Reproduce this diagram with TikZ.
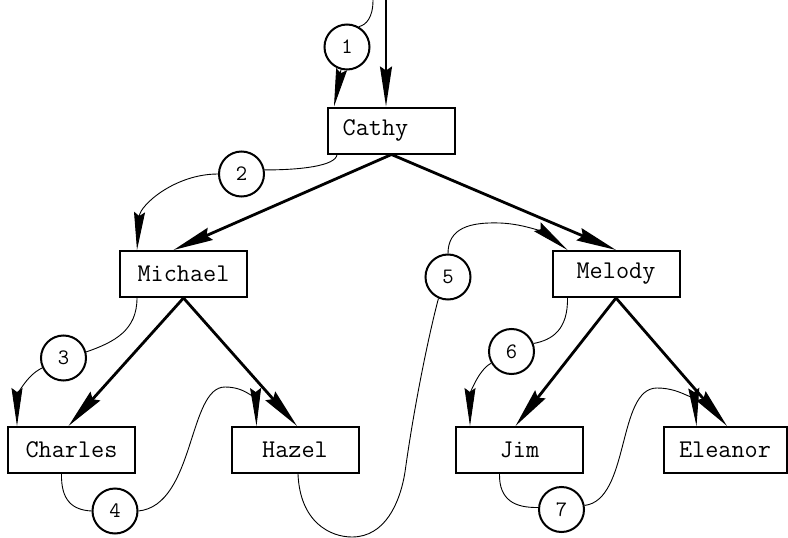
\documentclass[tikz,border=0pt]{standalone}
\usepackage{fontspec}
\usetikzlibrary{arrows.meta}
\begin{document}
\begin{tikzpicture}[x=1pt,y=-1pt,
  person/.style={draw,line width=2pt,minimum width=127pt,minimum height=46pt,inner sep=0pt,font=\ttfamily\fontsize{25.5}{28}\selectfont},
  stepnum/.style={draw,circle,line width=2pt,minimum size=45pt,inner sep=0pt,font=\ttfamily\fontsize{22}{24}\selectfont},
  tree/.style={line width=2.8pt,-{Stealth[length=40pt,width=13pt,inset=4pt]}},
  thread/.style={line width=0.9pt},
  threadtip/.style={thread,-{Stealth[length=38pt,width=11pt,inset=4pt]}}]
\useasboundingbox (0,0) rectangle (788,538);
% people
\node[person] (cathy) at (391.5,130.5) {Cathy\hspace*{32pt}};
\node[person] (michael) at (183.5,274) {Michael};
\node[person] (melody) at (616,274) {Melody};
\node[person] (charles) at (71.5,450) {Charles};
\node[person] (hazel) at (295,450) {Hazel};
\node[person] (jim) at (519.5,450) {Jim};
\node[person,minimum width=123pt] (eleanor) at (725,450) {Eleanor};
% step circles
\node[stepnum] (c1) at (347,47) {1};
\node[stepnum] (c2) at (241.5,174) {2};
\node[stepnum] (c3) at (63.5,358) {3};
\node[stepnum] (c4) at (115,511) {4};
\node[stepnum] (c5) at (448,277) {5};
\node[stepnum] (c6) at (511.5,351.5) {6};
\node[stepnum] (c7) at (561.5,509.5) {7};
% entry
\coordinate (entry) at (386,0);
\coordinate (threadin) at (373,0);
\draw[line width=2pt,-{Stealth[length=40pt,width=12pt,inset=4pt]}] (entry) -- (entry |- cathy.north);
% tree edges
\draw[tree] (cathy.south) -- ([xshift=-10pt]michael.north);
\draw[tree] (cathy.south) -- (melody.north);
\draw[tree] (michael.south) -- ([xshift=-3pt]charles.north);
\draw[tree] (michael.south) -- ([xshift=2pt]hazel.north);
\draw[tree] (melody.south) -- ([xshift=-4pt]jim.north);
\draw[tree] (melody.south) -- ([xshift=2pt]eleanor.north);
% thread
\draw[thread] (threadin) .. controls (373,18) and (366,25) .. (c1.60);
\draw[threadtip] (c1.-105) .. controls (339,82) .. ([xshift=-57.5pt]cathy.north);
\draw[thread] ([xshift=10pt]cathy.south west) .. controls (336,166) and (300,170) .. (c2.10);
\draw[threadtip] (c2.west) .. controls (175,174) and (140,205) .. ([xshift=18pt]michael.north west);
\draw[thread] ([xshift=18pt]michael.south west) .. controls (137,330) and (115,342) .. (c3.15);
\draw[threadtip] (c3.205) .. controls (25,376) and (17,398) .. ([xshift=10pt]charles.north west);
\draw[thread] ([xshift=-10pt]charles.south) .. controls (61,500) and (72,510) .. (c4.west);
\draw[threadtip] (c4.east) .. controls (195,505) and (188,387) .. (225,387) .. controls (250,387) and (256,405) .. ([xshift=26pt]hazel.north west);
\draw[thread] ([xshift=3pt]hazel.south) .. controls (300,522) and (330,537) .. (352,537) .. controls (385,537) and (400,503) .. (405,472) .. controls (415,400) and (430,330) .. (c5.-114);
\draw[threadtip] (c5.north) .. controls (448,228) and (470,222) .. (500,223) .. controls (527,224) and (548,235) .. ([xshift=16pt]melody.north west);
\draw[thread] ([xshift=16pt]melody.south west) .. controls (568,330) and (552,340) .. (c6.20);
\draw[threadtip] (c6.210) .. controls (478,370) and (470,395) .. ([xshift=15pt]jim.north west);
\draw[thread] ([xshift=-20pt]jim.south) .. controls (499,500) and (515,508) .. (c7.175);
\draw[threadtip] (c7.10) .. controls (630,500) and (617,388) .. (657,388) .. controls (684,388) and (695,405) .. ([xshift=34pt]eleanor.north west);
\end{tikzpicture}
\end{document}
